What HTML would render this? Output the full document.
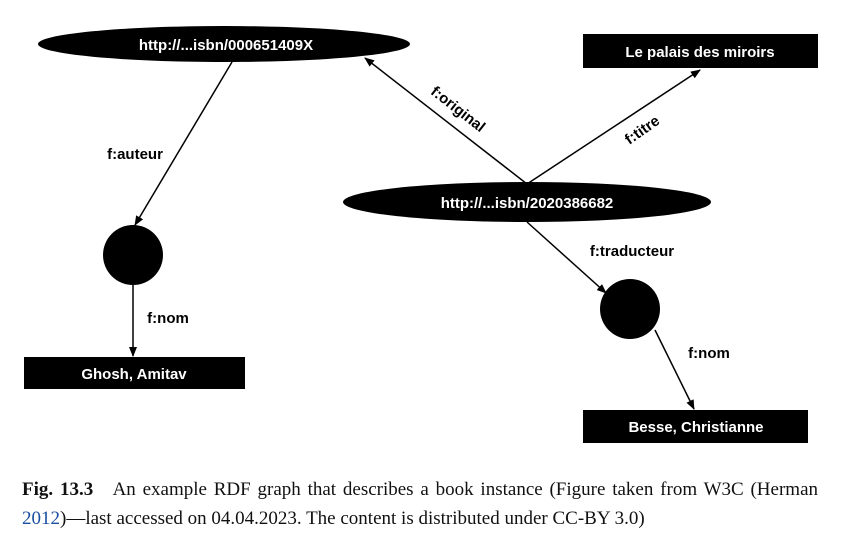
<!DOCTYPE html>
<html><head><meta charset="utf-8"><style>
body{margin:0;background:#fff;width:842px;height:535px;overflow:hidden}
.cap{position:absolute;left:22px;top:475px;width:796px;font-family:"Liberation Serif",serif;font-size:19px;line-height:29px;color:#111}
.l1{text-align:justify;text-align-last:justify;white-space:nowrap}
</style></head><body>
<svg width="842" height="470" style="position:absolute;left:0;top:0" font-family="Liberation Sans, sans-serif" font-weight="bold">
<defs><marker id="a" markerWidth="10" markerHeight="8" refX="9" refY="4" orient="auto" markerUnits="userSpaceOnUse"><path d="M0,0 L10,4 L0,8 z" fill="#000"/></marker></defs>
<g stroke="#000" stroke-width="1.5" fill="none" marker-end="url(#a)">
<line x1="232" y1="62" x2="135" y2="225"/>
<line x1="527" y1="184" x2="365" y2="58"/>
<line x1="527" y1="184" x2="700" y2="70"/>
<line x1="527" y1="222" x2="606" y2="293"/>
<line x1="133" y1="284" x2="133" y2="356"/>
<line x1="655" y1="330" x2="694" y2="409"/>
</g>
<ellipse cx="224" cy="44" rx="186" ry="18" fill="#000"/>
<ellipse cx="527" cy="202" rx="184" ry="20" fill="#000"/>
<circle cx="133" cy="255" r="30" fill="#000"/>
<circle cx="630" cy="309" r="30" fill="#000"/>
<rect x="583" y="34" width="235" height="34" fill="#000"/>
<rect x="24" y="357" width="221" height="32" fill="#000"/>
<rect x="583" y="410" width="225" height="33" fill="#000"/>
<g fill="#fff" font-size="15" text-anchor="middle">
<text x="226" y="50">http://...isbn/000651409X</text>
<text x="700" y="57">Le palais des miroirs</text>
<text x="527" y="208">http://...isbn/2020386682</text>
<text x="134" y="379">Ghosh, Amitav</text>
<text x="696" y="432">Besse, Christianne</text>
</g>
<g fill="#000" font-size="15" text-anchor="middle">
<text x="135" y="159">f:auteur</text>
<text x="632" y="256">f:traducteur</text>
<text x="168" y="323">f:nom</text>
<text x="709" y="358">f:nom</text>
<text transform="translate(455,113) rotate(38)">f:original</text>
<text transform="translate(645,134) rotate(-35)">f:titre</text>
</g>
</svg>
<div class="cap"><div class="l1"><b>Fig. 13.3</b>&nbsp;&nbsp; An example RDF graph that describes a book instance (Figure taken from W3C (Herman</div><div><span style="color:#1a4fa0">2012</span>)—last accessed on 04.04.2023. The content is distributed under CC-BY 3.0)</div></div>
</body></html>
